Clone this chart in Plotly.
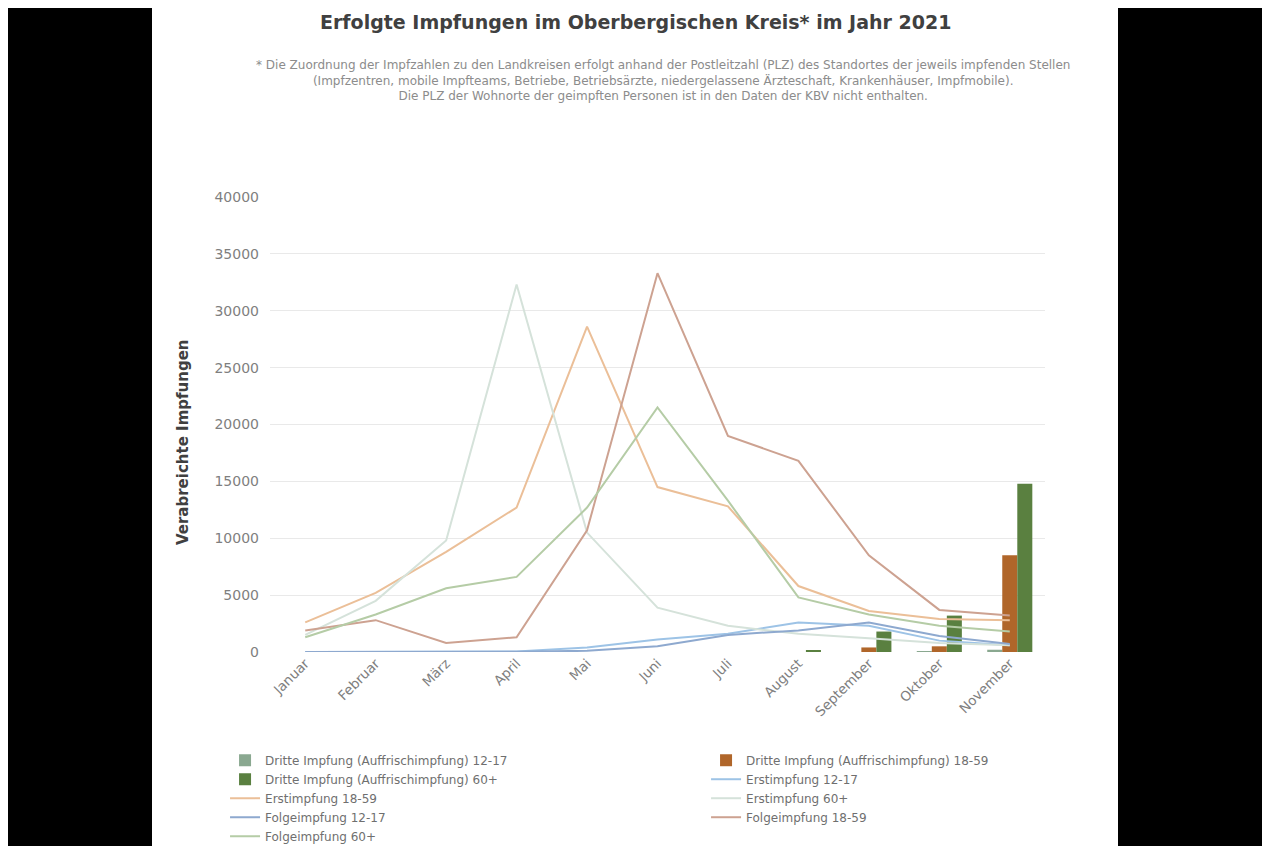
import plotly.graph_objects as go

monate = ["Januar", "Februar", "März", "April", "Mai", "Juni", "Juli",
          "August", "September", "Oktober", "November"]

# Dritte Impfung (Auffrischimpfung) - Balken
dritte_12_17 = [0, 0, 0, 0, 0, 0, 0, 0, 0, 50, 200]
dritte_18_59 = [0, 0, 0, 0, 0, 0, 0, 0, 400, 500, 8500]
dritte_60 = [0, 0, 0, 0, 0, 0, 0, 100, 1800, 3200, 14800]

# Erst- und Folgeimpfungen - Linien
erst_12_17 = [0, 0, 0, 50, 400, 1100, 1600, 2600, 2300, 1000, 600]
erst_18_59 = [2600, 5200, 8800, 12700, 28600, 14500, 12800, 5800, 3600, 2900, 2800]
erst_60 = [1500, 4500, 9800, 32300, 10500, 3900, 2300, 1600, 1200, 800, 600]
folge_12_17 = [0, 0, 0, 20, 100, 500, 1500, 1900, 2600, 1400, 700]
folge_18_59 = [1900, 2800, 800, 1300, 10700, 33300, 19000, 16800, 8500, 3700, 3200]
folge_60 = [1300, 3300, 5600, 6600, 12700, 21500, 13300, 4800, 3300, 2300, 1800]

y_ticks = [0, 5000, 10000, 15000, 20000, 25000, 30000, 35000, 40000]

FONT = "DejaVu Sans"

fig = go.Figure()

bars = [
    ("Dritte Impfung (Auffrischimpfung) 12-17", dritte_12_17, "#8aa890"),
    ("Dritte Impfung (Auffrischimpfung) 18-59", dritte_18_59, "#b0662a"),
    ("Dritte Impfung (Auffrischimpfung) 60+", dritte_60, "#5a8040"),
]
for name, vals, col in bars:
    fig.add_trace(go.Bar(x=monate, y=vals, name=name, marker_color=col,
                         marker_line_width=0))

lines = [
    ("Erstimpfung 12-17", erst_12_17, "#9dc3e6"),
    ("Erstimpfung 18-59", erst_18_59, "#ebbf98"),
    ("Erstimpfung 60+", erst_60, "#d5e2da"),
    ("Folgeimpfung 12-17", folge_12_17, "#8ea9cf"),
    ("Folgeimpfung 18-59", folge_18_59, "#cda291"),
    ("Folgeimpfung 60+", folge_60, "#b5cca6"),
]
for name, vals, col in lines:
    fig.add_trace(go.Scatter(x=monate, y=vals, name=name, mode="lines",
                             line=dict(color=col, width=2)))

# weisse Bildflaeche auf schwarzem Hintergrund
fig.add_shape(type="rect", xref="paper", yref="paper",
              x0=-118 / 775, x1=848 / 775, y0=-320 / 455, y1=1 + 320 / 455,
              fillcolor="white", line_width=0, layer="below")

untertitel = (
    "* Die Zuordnung der Impfzahlen zu den Landkreisen erfolgt anhand der Postleitzahl (PLZ) des Standortes der jeweils impfenden Stellen"
    "<br>(Impfzentren, mobile Impfteams, Betriebe, Betriebsärzte, niedergelassene Ärzteschaft, Krankenhäuser, Impfmobile)."
    "<br>Die PLZ der Wohnorte der geimpften Personen ist in den Daten der KBV nicht enthalten."
)

fig.update_layout(
    width=1262, height=838,
    paper_bgcolor="black", plot_bgcolor="white",
    margin=dict(l=262, r=225, t=189, b=194, autoexpand=False),
    font=dict(family=FONT, size=12, color="#7f7f7f"),
    barmode="group", bargap=0.36, bargroupgap=0,
    showlegend=True,
    legend=dict(orientation="h", x=-0.058, xanchor="left", y=-0.206, yanchor="top",
                entrywidthmode="pixels", entrywidth=436,
                font=dict(family=FONT, size=12, color="#6f6f6f"),
                bgcolor="rgba(0,0,0,0)", traceorder="normal"),
    annotations=[
        dict(text="<b>Erfolgte Impfungen im Oberbergischen Kreis* im Jahr 2021</b>",
             xref="paper", yref="paper", x=365 / 775, y=1 + 175 / 455,
             xanchor="center", yanchor="middle", showarrow=False,
             font=dict(family=FONT, size=19, color="#404040")),
        dict(text=untertitel,
             xref="paper", yref="paper", x=393 / 775, y=1 + 117 / 455,
             xanchor="center", yanchor="middle", showarrow=False,
             font=dict(family=FONT, size=12, color="#8c8c8c")),
        dict(text="<b>Verabreichte Impfungen</b>", textangle=-90,
             xref="paper", yref="paper", x=-87 / 775, y=(652 - 442) / 455,
             xanchor="center", yanchor="middle", showarrow=False,
             font=dict(family=FONT, size=15, color="#404040")),
    ],
)

fig.update_xaxes(range=[-0.5, 10.5], tickangle=-45, showgrid=False,
                 showline=False, ticks="", tickfont=dict(size=13.5, color="#7f7f7f"))
fig.update_yaxes(range=[0, 40000], tickvals=y_ticks, tickformat="d",
                 gridcolor="#e9e9e9", gridwidth=1, zeroline=False,
                 ticklabelstandoff=10,
                 tickfont=dict(size=14, color="#7f7f7f"))

fig.write_html("out.html")
